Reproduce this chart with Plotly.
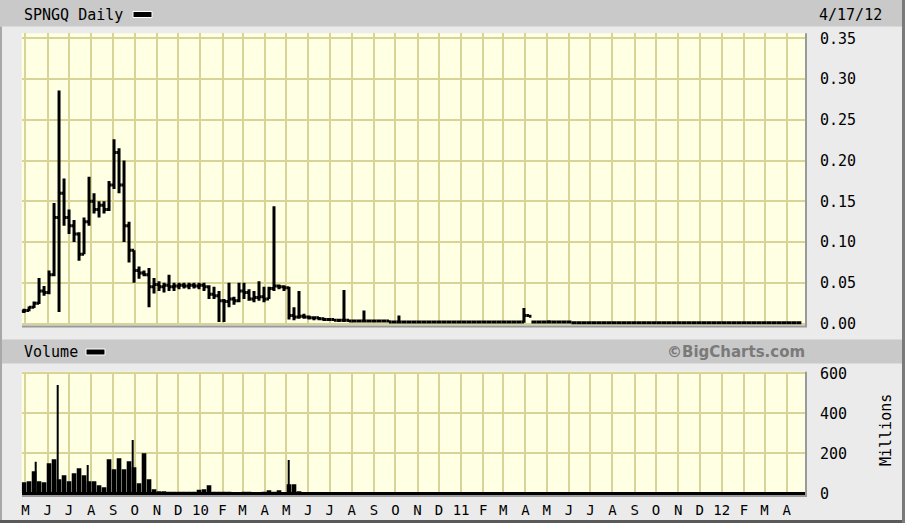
import plotly.graph_objects as go
import pandas as pd

# ---------------- data ----------------
week_dates = pd.date_range("2009-04-29", periods=156, freq="7D")

price_open = [
    0.015, 0.016, 0.020, 0.025, 0.040, 0.038, 0.060, 0.130, 0.160, 0.130,
    0.120, 0.110, 0.085, 0.125, 0.150, 0.140, 0.145, 0.140, 0.170, 0.210,
    0.170, 0.120, 0.090, 0.065, 0.062, 0.060, 0.045, 0.048, 0.045, 0.047,
    0.045, 0.046, 0.047, 0.046, 0.047, 0.046, 0.047, 0.045, 0.036, 0.034,
    0.028, 0.027, 0.030, 0.028, 0.040, 0.038, 0.030, 0.032, 0.033, 0.030,
    0.043, 0.046, 0.045, 0.044, 0.010, 0.008, 0.009, 0.008, 0.007, 0.007,
    0.006, 0.005, 0.005, 0.004, 0.004, 0.004, 0.003, 0.003, 0.003, 0.003,
    0.003, 0.003, 0.003, 0.003, 0.002, 0.002, 0.002, 0.002, 0.002, 0.002,
    0.002, 0.002, 0.002, 0.002, 0.002, 0.002, 0.002, 0.002, 0.002, 0.002,
    0.002, 0.002, 0.002, 0.002, 0.002, 0.002, 0.002, 0.002, 0.002, 0.002,
    0.002, 0.010, 0.002, 0.002, 0.002, 0.002, 0.002, 0.002, 0.002, 0.002,
    0.001, 0.001, 0.001, 0.001, 0.001, 0.001, 0.001, 0.001, 0.001, 0.001,
    0.001, 0.001, 0.001, 0.001, 0.001, 0.001, 0.001, 0.001, 0.001, 0.001,
    0.001, 0.001, 0.001, 0.001, 0.001, 0.001, 0.001, 0.001, 0.001, 0.001,
    0.001, 0.001, 0.001, 0.001, 0.001, 0.001, 0.001, 0.001, 0.001, 0.001,
    0.001, 0.001, 0.001, 0.001, 0.001, 0.001,
]
price_high = [
    0.018, 0.021, 0.027, 0.056, 0.046, 0.065, 0.148, 0.286, 0.178, 0.140,
    0.127, 0.112, 0.130, 0.180, 0.160, 0.150, 0.150, 0.175, 0.226, 0.215,
    0.200, 0.125, 0.090, 0.070, 0.065, 0.068, 0.056, 0.052, 0.050, 0.060,
    0.050, 0.050, 0.050, 0.050, 0.050, 0.050, 0.050, 0.047, 0.045, 0.040,
    0.030, 0.050, 0.033, 0.050, 0.050, 0.042, 0.040, 0.052, 0.045, 0.045,
    0.144, 0.048, 0.047, 0.045, 0.020, 0.040, 0.012, 0.010, 0.009, 0.008,
    0.007, 0.006, 0.006, 0.006, 0.041, 0.005, 0.004, 0.004, 0.016, 0.004,
    0.004, 0.004, 0.004, 0.004, 0.003, 0.010, 0.003, 0.003, 0.003, 0.003,
    0.003, 0.003, 0.003, 0.003, 0.003, 0.003, 0.003, 0.003, 0.003, 0.003,
    0.003, 0.003, 0.003, 0.003, 0.003, 0.003, 0.003, 0.003, 0.003, 0.003,
    0.019, 0.010, 0.003, 0.003, 0.003, 0.004, 0.002, 0.002, 0.002, 0.003,
    0.002, 0.002, 0.002, 0.002, 0.002, 0.002, 0.002, 0.002, 0.002, 0.002,
    0.002, 0.002, 0.002, 0.002, 0.002, 0.002, 0.002, 0.002, 0.002, 0.002,
    0.002, 0.002, 0.002, 0.002, 0.002, 0.002, 0.002, 0.002, 0.002, 0.002,
    0.002, 0.002, 0.002, 0.002, 0.002, 0.002, 0.002, 0.002, 0.002, 0.002,
    0.002, 0.002, 0.002, 0.002, 0.002, 0.002,
]
price_low = [
    0.013, 0.015, 0.019, 0.024, 0.034, 0.036, 0.058, 0.014, 0.120, 0.110,
    0.100, 0.077, 0.085, 0.120, 0.135, 0.130, 0.135, 0.138, 0.165, 0.160,
    0.100, 0.075, 0.050, 0.055, 0.058, 0.020, 0.037, 0.040, 0.038, 0.040,
    0.040, 0.042, 0.043, 0.042, 0.043, 0.042, 0.040, 0.030, 0.030, 0.002,
    0.002, 0.020, 0.023, 0.026, 0.030, 0.028, 0.026, 0.028, 0.026, 0.030,
    0.040, 0.042, 0.040, 0.005, 0.004, 0.006, 0.006, 0.005, 0.004, 0.004,
    0.003, 0.003, 0.003, 0.002, 0.002, 0.002, 0.002, 0.002, 0.002, 0.002,
    0.002, 0.002, 0.002, 0.002, 0.001, 0.001, 0.001, 0.001, 0.001, 0.001,
    0.001, 0.001, 0.001, 0.001, 0.001, 0.001, 0.001, 0.001, 0.001, 0.001,
    0.001, 0.001, 0.001, 0.001, 0.001, 0.001, 0.001, 0.001, 0.001, 0.001,
    0.001, 0.008, 0.001, 0.001, 0.001, 0.001, 0.001, 0.001, 0.001, 0.001,
    0.0005, 0.0005, 0.0005, 0.0005, 0.0005, 0.0005, 0.0005, 0.0005, 0.0005, 0.0005,
    0.0005, 0.0005, 0.0005, 0.0005, 0.0005, 0.0005, 0.0005, 0.0005, 0.0005, 0.0005,
    0.0005, 0.0005, 0.0005, 0.0005, 0.0005, 0.0005, 0.0005, 0.0005, 0.0005, 0.0005,
    0.0005, 0.0005, 0.0005, 0.0005, 0.0005, 0.0005, 0.0005, 0.0005, 0.0005, 0.0005,
    0.0005, 0.0005, 0.0005, 0.0005, 0.0005, 0.0005,
]
price_close = [
    0.016, 0.020, 0.025, 0.040, 0.038, 0.060, 0.130, 0.160, 0.130, 0.120,
    0.110, 0.085, 0.125, 0.150, 0.140, 0.145, 0.140, 0.170, 0.210, 0.170,
    0.120, 0.090, 0.065, 0.062, 0.060, 0.045, 0.048, 0.045, 0.047, 0.045,
    0.046, 0.047, 0.046, 0.047, 0.046, 0.047, 0.045, 0.036, 0.034, 0.028,
    0.027, 0.030, 0.028, 0.040, 0.038, 0.030, 0.032, 0.033, 0.030, 0.043,
    0.046, 0.045, 0.044, 0.010, 0.008, 0.009, 0.008, 0.007, 0.007, 0.006,
    0.005, 0.005, 0.004, 0.004, 0.004, 0.003, 0.003, 0.003, 0.003, 0.003,
    0.003, 0.003, 0.003, 0.002, 0.002, 0.002, 0.002, 0.002, 0.002, 0.002,
    0.002, 0.002, 0.002, 0.002, 0.002, 0.002, 0.002, 0.002, 0.002, 0.002,
    0.002, 0.002, 0.002, 0.002, 0.002, 0.002, 0.002, 0.002, 0.002, 0.002,
    0.010, 0.009, 0.002, 0.002, 0.002, 0.002, 0.002, 0.002, 0.002, 0.002,
    0.001, 0.001, 0.001, 0.001, 0.001, 0.001, 0.001, 0.001, 0.001, 0.001,
    0.001, 0.001, 0.001, 0.001, 0.001, 0.001, 0.001, 0.001, 0.001, 0.001,
    0.001, 0.001, 0.001, 0.001, 0.001, 0.001, 0.001, 0.001, 0.001, 0.001,
    0.001, 0.001, 0.001, 0.001, 0.001, 0.001, 0.001, 0.001, 0.001, 0.001,
    0.001, 0.001, 0.001, 0.001, 0.001, 0.001,
]
volume_millions = [
    55, 60, 110, 60, 55, 150, 170, 70, 90, 60,
    100, 125, 90, 60, 60, 40, 30, 170, 120, 175,
    120, 160, 130, 50, 200, 70, 20, 10, 10, 8,
    8, 5, 5, 5, 5, 18, 20, 40, 5, 4,
    4, 5, 3, 3, 5, 4, 3, 3, 5, 15,
    5, 15, 3, 45, 45, 10, 3, 2, 2, 1,
] + [0.5] * 96
spike_dates = ["2009-05-15", "2009-06-15", "2009-07-27", "2009-09-28", "2010-05-05"]
spike_volume = [158, 541, 141, 267, 167]

month_starts = pd.date_range("2009-05-01", "2012-04-01", freq="MS")
month_labels = ["M", "J", "J", "A", "S", "O", "N", "D",
                "10", "F", "M", "A", "M", "J", "J", "A", "S", "O", "N", "D",
                "11", "F", "M", "A", "M", "J", "J", "A", "S", "O", "N", "D",
                "12", "F", "M", "A"]
price_ticks = [0.0, 0.05, 0.10, 0.15, 0.20, 0.25, 0.30, 0.35]
volume_ticks = [0, 200, 400, 600]

# ---------------- figure ----------------
W, H = 905, 523
def px(x):
    return x / W
def py(y):
    return 1 - y / H

FONT = "DejaVu Sans Mono"
GRID = "rgb(216,212,152)"
DAY = 86400000

fig = go.Figure()
fig.add_trace(go.Ohlc(
    x=week_dates, open=price_open, high=price_high, low=price_low, close=price_close,
    increasing_line_color="black", decreasing_line_color="black",
    line_width=3, tickwidth=0.5, xaxis="x", yaxis="y",
    showlegend=False, hoverinfo="skip"))
fig.add_trace(go.Bar(
    x=week_dates, y=volume_millions, width=6.5 * DAY,
    marker_color="black", marker_line_width=0,
    xaxis="x2", yaxis="y2", showlegend=False, hoverinfo="skip"))
fig.add_trace(go.Bar(
    x=spike_dates, y=spike_volume, width=1.5 * DAY,
    marker_color="black", marker_line_width=0,
    xaxis="x2", yaxis="y2", showlegend=False, hoverinfo="skip"))

xr = ["2009-04-25 17:00", "2012-04-26 14:00"]
xdom = [px(21.7), px(805)]

fig.update_layout(
    template="none",
    width=W, height=H, margin=dict(l=0, r=0, t=0, b=0, pad=0, autoexpand=False),
    paper_bgcolor="#ebebeb", plot_bgcolor="#ffffe3",
    barmode="overlay", showlegend=False,
    font=dict(family=FONT, size=14, color="black"),
    xaxis=dict(domain=xdom, range=xr, anchor="y", type="date", automargin=False,
               tickvals=month_starts, showticklabels=False,
               showgrid=True, gridcolor=GRID, gridwidth=2,
               zeroline=False, showline=False, ticks="",
               rangeslider=dict(visible=False)),
    yaxis=dict(domain=[py(325), py(33.3)], range=[-0.0018, 0.3561], anchor="x",
               side="right", tickvals=price_ticks, tickformat=".2f", automargin=False,
               showgrid=True, gridcolor=GRID, gridwidth=2, zeroline=False,
               showline=False,
               ticks="outside", ticklen=11, tickcolor="rgba(0,0,0,0)",
               tickfont=dict(family=FONT, size=15)),
    xaxis2=dict(domain=xdom, range=xr, anchor="y2", type="date", matches="x",
                automargin=False,
                tickvals=month_starts, ticktext=month_labels,
                showgrid=True, gridcolor=GRID, gridwidth=2,
                zeroline=False, showline=False,
                ticks="outside", ticklen=2, tickcolor="rgba(0,0,0,0)",
                tickfont=dict(family=FONT, size=14),
                rangeslider=dict(visible=False)),
    yaxis2=dict(domain=[py(495), py(371.7)], range=[-8.5, 608], anchor="x2",
                side="right", tickvals=volume_ticks, automargin=False,
                showgrid=True, gridcolor=GRID, gridwidth=2,
                zeroline=True, zerolinecolor="black", zerolinewidth=3,
                showline=False,
                ticks="outside", ticklen=11, tickcolor="rgba(0,0,0,0)",
                tickfont=dict(family=FONT, size=15)),
)

shapes = []
# header bars
shapes.append(dict(type="rect", xref="paper", yref="paper", layer="below",
                   x0=0, x1=px(902), y0=py(26.5), y1=1,
                   fillcolor="#c9c9c9", line_width=0))
shapes.append(dict(type="rect", xref="paper", yref="paper", layer="below",
                   x0=px(2), x1=px(902), y0=py(363.5), y1=py(339.5),
                   fillcolor="#c9c9c9", line_width=0))
# legend dashes
shapes.append(dict(type="rect", xref="paper", yref="paper",
                   x0=px(133), x1=px(152), y0=py(17.5), y1=py(11.5),
                   fillcolor="black", line=dict(color="white", width=1)))
shapes.append(dict(type="rect", xref="paper", yref="paper",
                   x0=px(86), x1=px(105), y0=py(355), y1=py(349),
                   fillcolor="black", line=dict(color="white", width=1)))
# plot shadows
for (y0, y1) in [(33.3, 326.5), (371.7, 496)]:
    shapes.append(dict(type="line", xref="paper", yref="paper",
                       x0=px(806), x1=px(806), y0=py(y0), y1=py(y1),
                       line=dict(color="#9a9a9a", width=2)))
    shapes.append(dict(type="line", xref="paper", yref="paper",
                       x0=px(22), x1=px(807), y0=py(y1), y1=py(y1),
                       line=dict(color="#9a9a9a", width=2)))
# outer frame
shapes.append(dict(type="line", xref="paper", yref="paper",
                   x0=px(1), x1=px(1), y0=0, y1=py(26.5),
                   line=dict(color="#a8a8a8", width=2)))
shapes.append(dict(type="line", xref="paper", yref="paper",
                   x0=0, x1=1, y0=py(521.5), y1=py(521.5),
                   line=dict(color="#5a5a5a", width=3)))
shapes.append(dict(type="line", xref="paper", yref="paper",
                   x0=px(903.5), x1=px(903.5), y0=0, y1=1,
                   line=dict(color="#7a7a7a", width=3)))
fig.update_layout(shapes=shapes)

ann = [
    dict(text="SPNGQ Daily", x=px(22), y=py(15), xanchor="left", yanchor="middle",
         font=dict(family=FONT, size=15)),
    dict(text="4/17/12", x=px(884), y=py(15), xanchor="right", yanchor="middle",
         font=dict(family=FONT, size=15)),
    dict(text="Volume", x=px(22), y=py(352), xanchor="left", yanchor="middle",
         font=dict(family=FONT, size=15)),
    dict(text="©BigCharts.com", x=px(807), y=py(352), xanchor="right", yanchor="middle",
         font=dict(family="DejaVu Sans", size=15, color="#7a7a7a", weight="bold")),
    dict(text="Millions", x=px(886), y=py(430), xanchor="center", yanchor="middle",
         textangle=-90, font=dict(family=FONT, size=15)),
]
for a in ann:
    a.update(xref="paper", yref="paper", showarrow=False)
fig.update_layout(annotations=ann)

fig.write_html("out.html", config={"displayModeBar": False},
               post_script="document.body.style.margin='0';document.body.style.overflow='hidden';")
